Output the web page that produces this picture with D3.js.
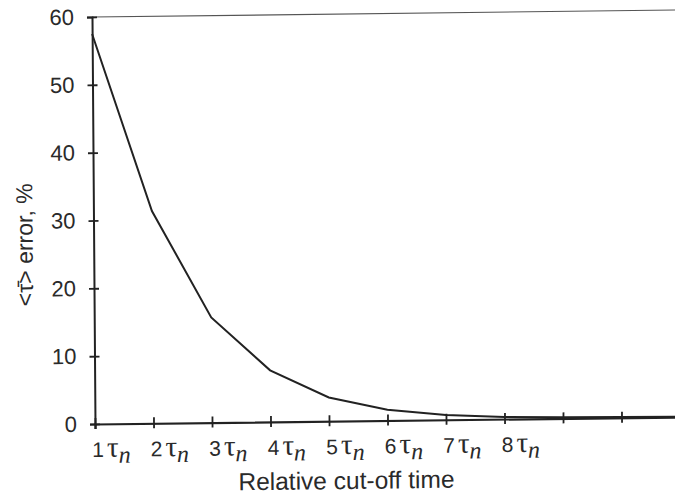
<!DOCTYPE html>
<html>
<head>
<meta charset="utf-8">
<script src="https://cdn.jsdelivr.net/npm/d3@7"></script>
<style>
  body { margin: 0; background: #fff; }
  text { font-family: "Liberation Sans", Arial, sans-serif; fill: #2a2a2a; }
</style>
</head>
<body>
<div id="container"></div>
<script>
/* CONSTANTS AND GLOBALS */
const width = 675,
  height = 500,
  margin = { top: 17, bottom: 76, left: 95, right: -5 }

/* DATA */
const cutoff = [1, 2, 3, 4, 5, 6, 7, 8, 9, 10, 11]
const errorPct = [57.5, 31.3, 15.5, 7.6, 3.5, 1.6, 0.7, 0.3, 0.15, 0.1, 0.05]
const yTicks = [0, 10, 20, 30, 40, 50, 60]
const xTickLabels = ["1", "2", "3", "4", "5", "6", "7", "8", "", "", ""]

const data = cutoff.map((c, i) => ({ x: c, y: errorPct[i] }))

const xScale = d3.scaleLinear()
  .domain([1, 11])
  .range([margin.left, width - margin.right])

const yScale = d3.scaleLinear()
  .domain([0, 60])
  .range([height - margin.bottom, margin.top])

const svg = d3.select("#container")
  .append("svg")
  .attr("width", width)
  .attr("height", height)

// the scan is slightly skewed: baseline climbs to the right, left axis leans
const ox = margin.left, oy = height - margin.bottom
const g = svg.append("g")
  .attr("transform", `translate(${ox},${oy}) matrix(1,-0.012,0.0074,1,0,0) translate(${-ox},${-oy})`)

// top frame line at 60
g.append("line")
  .attr("x1", xScale(1)).attr("x2", xScale(11))
  .attr("y1", yScale(60)).attr("y2", yScale(60))
  .attr("stroke", "#555")
  .attr("stroke-width", 1.2)

// y axis
const yAxis = g.append("g")
  .attr("transform", `translate(${margin.left},0)`)
  .call(d3.axisLeft(yScale).tickValues(yTicks).tickSize(5).tickPadding(13))
yAxis.select(".domain").attr("stroke", "#222").attr("stroke-width", 2)
yAxis.selectAll(".tick line")
  .attr("x2", 5).attr("x1", -5)
  .attr("stroke", "#222").attr("stroke-width", 1.8)
yAxis.selectAll(".tick text")
  .attr("font-size", 22)
  .attr("font-family", "Liberation Sans, Arial, sans-serif")
  .attr("fill", "#2a2a2a")

// x axis
const xAxis = g.append("g")
  .attr("transform", `translate(0,${oy})`)
  .call(d3.axisBottom(xScale).tickValues(cutoff).tickSize(5).tickFormat(""))
xAxis.select(".domain").attr("stroke", "#222").attr("stroke-width", 2.2)
xAxis.selectAll(".tick line")
  .attr("y1", -6).attr("y2", 5)
  .attr("stroke", "#222").attr("stroke-width", 1.8)

// x tick labels: N τ_n
const xl = g.selectAll(".xlab")
  .data(cutoff.filter((c, i) => xTickLabels[i] !== ""))
  .join("text")
  .attr("class", "xlab")
  .attr("x", d => xScale(d) - 3)
  .attr("y", oy + 33)
  .attr("font-size", 21)
xl.append("tspan").text(d => xTickLabels[d - 1])
xl.append("tspan")
  .attr("dx", 3)
  .attr("font-family", "Liberation Serif, Times New Roman, serif")
  .attr("font-size", 29)
  .text("τ")
xl.append("tspan")
  .attr("dy", 6)
  .attr("font-family", "Liberation Serif, Times New Roman, serif")
  .attr("font-style", "italic")
  .attr("font-size", 24)
  .text("n")

// x title
g.append("text")
  .attr("x", 346)
  .attr("y", 492)
  .attr("text-anchor", "middle")
  .attr("font-size", 24.5)
  .text("Relative cut-off time")

// y title
g.append("text")
  .attr("transform", "translate(34,244) rotate(-90)")
  .attr("text-anchor", "middle")
  .attr("font-size", 23)
  .text("<τ\u0304> error, %")

// curve
const line = d3.line()
  .x(d => xScale(d.x))
  .y(d => yScale(d.y))

g.append("path")
  .datum(data)
  .attr("d", line)
  .attr("fill", "none")
  .attr("stroke", "#222")
  .attr("stroke-width", 2)
</script>
</body>
</html>
